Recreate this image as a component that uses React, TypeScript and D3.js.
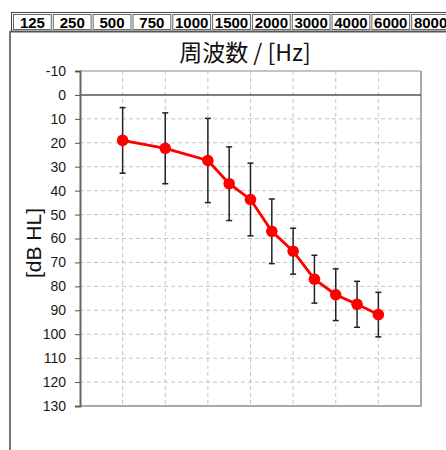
import { useEffect, useRef } from 'react';
import * as d3 from 'd3';

const W = 446, H = 450;
const ML = 80, MR = 25, MT = 71, MB = 44;

const freqLabels = ['125', '250', '500', '750', '1000', '1500', '2000', '3000', '4000', '6000', '8000'];
// octave position of each measured frequency (750/1500/... sit halfway between octaves)
const octavePos = [1, 2, 3, 3.5, 4, 4.5, 5, 5.5, 6, 6.5, 7];
const meanDb = [19, 22.3, 27.4, 37.1, 43.7, 57, 65.3, 77, 83.5, 87.5, 91.8];
const sdDb = [13.7, 14.8, 17.6, 15.4, 15.2, 13.5, 9.6, 10, 10.8, 9.6, 9.3];
const yTicks = d3.range(-10, 131, 10);

export default function App() {
  const svgRef = useRef<SVGSVGElement>(null);

  useEffect(() => {
    const svg = d3.select(svgRef.current);
    svg.selectAll('*').remove();

    const x = d3.scaleLinear().domain([0, 8]).range([ML, W - MR]);
    const y = d3.scaleLinear().domain([-10, 130]).range([MT, H - MB]);

    // header table of frequencies
    const hx = d3.scaleBand().domain(freqLabels).range([12, 450]);
    const hdr = svg.append('g');
    hdr.append('rect').attr('x', 11.5).attr('y', 12.5).attr('width', 450).attr('height', 19)
      .attr('fill', 'none').attr('stroke', '#444').attr('stroke-width', 1);
    hdr.append('line').attr('x1', 10).attr('x2', W).attr('y1', 31.5).attr('y2', 31.5)
      .attr('stroke', '#555').attr('stroke-width', 2);
    hdr.selectAll('rect.cell').data(freqLabels).join('rect').attr('class', 'cell')
      .attr('x', (d) => hx(d)! + 1.5).attr('y', 14.5)
      .attr('width', hx.bandwidth() - 2).attr('height', 15)
      .attr('fill', '#fff').attr('stroke', '#666').attr('stroke-width', 1);
    hdr.selectAll('text').data(freqLabels).join('text')
      .attr('x', (d) => hx(d)! + hx.bandwidth() / 2 + 0.5).attr('y', 27.5)
      .attr('text-anchor', 'middle').attr('font-family', 'Liberation Sans, Arial, sans-serif')
      .attr('font-weight', 'bold').attr('font-size', 15).attr('fill', '#000')
      .text((d) => d);

    // left frame line
    svg.append('line').attr('x1', 10).attr('x2', 10).attr('y1', 31).attr('y2', H)
      .attr('stroke', '#777').attr('stroke-width', 2);

    // title
    svg.append('text').attr('x', 245).attr('y', 61).attr('text-anchor', 'middle')
      .attr('font-family', 'Noto Sans CJK JP, sans-serif').attr('font-size', 23).attr('fill', '#111')
      .text('周波数 / [Hz]');

    // y label
    svg.append('text').attr('transform', 'translate(41,243) rotate(-90)').attr('text-anchor', 'middle')
      .attr('font-family', 'Liberation Sans, Arial, sans-serif').attr('font-size', 21).attr('fill', '#111')
      .text('[dB HL]');

    const g = svg.append('g');

    // horizontal gridlines
    g.selectAll('line.hg').data(yTicks.filter((t) => t > 0 && t < 130)).join('line').attr('class', 'hg')
      .attr('x1', ML).attr('x2', W - MR).attr('y1', (d) => y(d)).attr('y2', (d) => y(d))
      .attr('stroke', '#c4c4c4').attr('stroke-dasharray', '4,3');
    // vertical gridlines
    g.selectAll('line.vg').data(d3.range(1, 8)).join('line').attr('class', 'vg')
      .attr('x1', (d) => x(d)).attr('x2', (d) => x(d)).attr('y1', MT).attr('y2', H - MB)
      .attr('stroke', '#c4c4c4').attr('stroke-dasharray', '4,3');

    // top line at -10
    g.append('line').attr('x1', ML).attr('x2', W - MR).attr('y1', y(-10)).attr('y2', y(-10))
      .attr('stroke', '#b0b0b0').attr('stroke-width', 1.5);
    // right and bottom frame
    g.append('path')
      .attr('d', `M${W - MR},${MT}V${H - MB}H${ML}`)
      .attr('fill', 'none').attr('stroke', '#a8a8a8').attr('stroke-width', 2);
    // zero line
    g.append('line').attr('x1', ML).attr('x2', W - MR).attr('y1', y(0)).attr('y2', y(0))
      .attr('stroke', '#555').attr('stroke-width', 1.5);

    // y axis
    g.append('g').attr('transform', `translate(${ML},0)`)
      .call(d3.axisLeft(y).tickValues(yTicks).tickSize(5).tickPadding(9).tickFormat((d) => String(d)))
      .call((gg) => {
        gg.select('.domain').attr('stroke', '#666').attr('stroke-width', 2);
        gg.selectAll('line').attr('stroke', '#555');
        gg.selectAll('text').attr('font-size', 14).attr('fill', '#1a1a1a')
          .attr('font-family', 'Liberation Sans, Arial, sans-serif');
      });

    const pts = octavePos.map((p, i) => ({ p, m: meanDb[i], s: sdDb[i] }));

    // error bars
    const eb = g.append('g').attr('stroke', '#222').attr('stroke-width', 1.5);
    pts.forEach((d) => {
      eb.append('line').attr('x1', x(d.p)).attr('x2', x(d.p))
        .attr('y1', y(d.m - d.s)).attr('y2', y(d.m + d.s));
      [d.m - d.s, d.m + d.s].forEach((v) => {
        eb.append('line').attr('x1', x(d.p) - 3).attr('x2', x(d.p) + 3)
          .attr('y1', y(v)).attr('y2', y(v));
      });
    });

    // mean line
    g.append('path').datum(pts)
      .attr('d', d3.line<any>().x((d) => x(d.p)).y((d) => y(d.m)))
      .attr('fill', 'none').attr('stroke', '#ff0000').attr('stroke-width', 2.8);
    g.selectAll('circle').data(pts).join('circle')
      .attr('cx', (d) => x(d.p)).attr('cy', (d) => y(d.m)).attr('r', 5.8)
      .attr('fill', '#ff0000');
  }, []);

  return (
    <svg ref={svgRef} width={W} height={H}
      style={{ position: 'absolute', left: 0, top: 0, background: '#fff' }} />
  );
}
